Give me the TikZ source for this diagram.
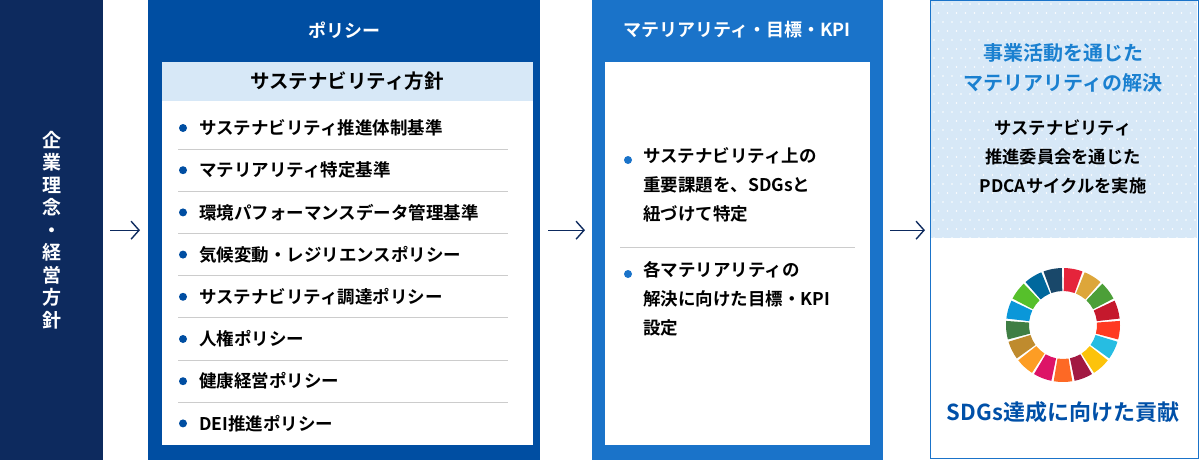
\documentclass[tikz,border=0pt]{standalone}
\usepackage{fontspec}
\setmainfont{Noto Sans CJK JP}[BoldFont={Noto Sans CJK JP Bold}]
\usetikzlibrary{positioning, arrows.meta}
\definecolor{navy}{HTML}{0D2A5E}
\definecolor{policyblue}{HTML}{004EA2}
\definecolor{matblue}{HTML}{1A73C9}
\definecolor{paleblue}{HTML}{D7E8F7}
\definecolor{titleblue}{HTML}{1A80D0}
\definecolor{sdgblue}{HTML}{0050A8}
\definecolor{sepgray}{HTML}{CCCCCC}
\tikzset{
  panel/.style={rectangle, anchor=north west, inner sep=0pt, draw=none},
  paneltitle/.style={text=white, font=\bfseries\fontsize{18}{18}\selectfont},
  item/.style={anchor=west, inner sep=0pt, font=\bfseries\fontsize{17.5}{18}\selectfont},
  bullet/.style={circle, inner sep=0pt, minimum size=8pt},
  flow/.style={-{Straight Barb[length=8pt,width=18pt]}, line width=1.4pt, navy},
}
\begin{document}
\begin{tikzpicture}[x=1pt, y=-1pt]
  \useasboundingbox (0,0) rectangle (1200,460);
  % left column
  \node[panel, fill=navy, minimum width=103pt, minimum height=460pt] (vision) at (0,0) {};
  \node[text=white, align=center, font=\bfseries\fontsize{19}{22.5}\selectfont] (visiontext) at (52,230)
    {企\\業\\理\\念\\・\\経\\営\\方\\針};
  % policy column
  \node[panel, fill=policyblue, minimum width=392pt, minimum height=460pt] (policy) at (148,0) {};
  \node[paneltitle] (policytitle) at (344,30) {ポリシー};
  \node[panel, fill=white, minimum width=371pt, minimum height=383pt] (policyin) at (162,62) {};
  \node[panel, fill=paleblue, minimum width=371pt, minimum height=39pt] (policyhead) at (162,62) {};
  \node[font=\bfseries\fontsize{19.5}{18}\selectfont] (policyheadtext) at (347,81) {サステナビリティ方針};
  \foreach \txt [count=\i] in {サステナビリティ推進体制基準, マテリアリティ特定基準,
      環境パフォーマンスデータ管理基準, 気候変動・レジリエンスポリシー,
      サステナビリティ調達ポリシー, 人権ポリシー, 健康経営ポリシー, DEI推進ポリシー} {
    \pgfmathsetmacro{\yy}{128+42.2*(\i-1)}
    \node[bullet, fill=policyblue] (pb\i) at (183,\yy) {};
    \node[item] (pt\i) at (199,\yy) {\txt};
    \ifnum\i<8
      \draw[sepgray, line width=0.8pt] (178,\yy+21) -- (508,\yy+21);
    \fi
  }
  % materiality column
  \node[panel, fill=matblue, minimum width=291pt, minimum height=460pt] (mat) at (592,0) {};
  \node[paneltitle] (mattitle) at (737,30) {マテリアリティ・目標・KPI};
  \node[panel, fill=white, minimum width=265pt, minimum height=383pt] (matin) at (605,62) {};
  \node[bullet, fill=matblue] (mb1) at (628,160) {};
  \node[item, anchor=north west, align=left, font=\bfseries\fontsize{17.5}{29}\selectfont] (mt1) at (643,147)
    {サステナビリティ上の\\重要課題を、SDGsと\\紐づけて特定};
  \draw[sepgray, line width=0.8pt] (620,247) -- (855,247);
  \node[bullet, fill=matblue] (mb2) at (628,274) {};
  \node[item, anchor=north west, align=left, font=\bfseries\fontsize{17.5}{29}\selectfont] (mt2) at (643,261)
    {各マテリアリティの\\解決に向けた目標・KPI\\設定};
  % result column
  \node[panel, fill=paleblue, minimum width=267pt, minimum height=238pt] (result) at (930,0) {};
  \foreach \px in {0,...,29} \foreach \py in {0,...,26} {
    \pgfmathsetmacro{\dx}{934+\px*9+mod(\py,2)*4.5}
    \fill[white] (\dx, 4+\py*9) circle (0.8pt);
  }
  \draw[matblue, line width=1.2pt] (930.6,0.6) rectangle (1198.4,458.4);
  \node[align=center, text=titleblue, font=\bfseries\fontsize{20}{30}\selectfont] (resulttitle) at (1063,68)
    {事業活動を通じた\\マテリアリティの解決};
  \node[align=center, font=\bfseries\fontsize{17.3}{29}\selectfont] (resulttext) at (1063,157)
    {サステナビリティ\\推進委員会を通じた\\PDCAサイクルを実施};
  \coordinate (wheel) at (1063,325);
  \foreach \c [count=\i] in {E5243B,DDA63A,4C9F38,C5192D,FF3A21,26BDE2,FCC30B,A21942,FD6925,
      DD1367,FD9D24,BF8B2E,3F7E44,0A97D9,56C02B,00689D,19486A} {
    \definecolor{sdgc}{HTML}{\c}
    \pgfmathsetmacro{\aa}{-90+(\i-1)*360/17+1.2}
    \pgfmathsetmacro{\ab}{-90+\i*360/17-1.2}
    \fill[sdgc] ([shift={(\aa:57)}]wheel) arc[start angle=\aa, end angle=\ab, radius=57]
      -- ([shift={(\ab:34)}]wheel) arc[start angle=\ab, end angle=\aa, radius=34] -- cycle;
  }
  \node[text=sdgblue, font=\bfseries\fontsize{22}{22}\selectfont] (sdgtext) at (1063,412) {SDGs達成に向けた貢献};
  % flow arrows
  \draw[flow] ([xshift=7pt]vision.east) -- ([xshift=-8pt]vision.east -| policy.west);
  \draw[flow] ([xshift=8pt]policy.east) -- ([xshift=-7pt]policy.east -| mat.west);
  \draw[flow] ([xshift=7pt]mat.east) -- ([xshift=-5pt]mat.east -| result.west);
\end{tikzpicture}
\end{document}
